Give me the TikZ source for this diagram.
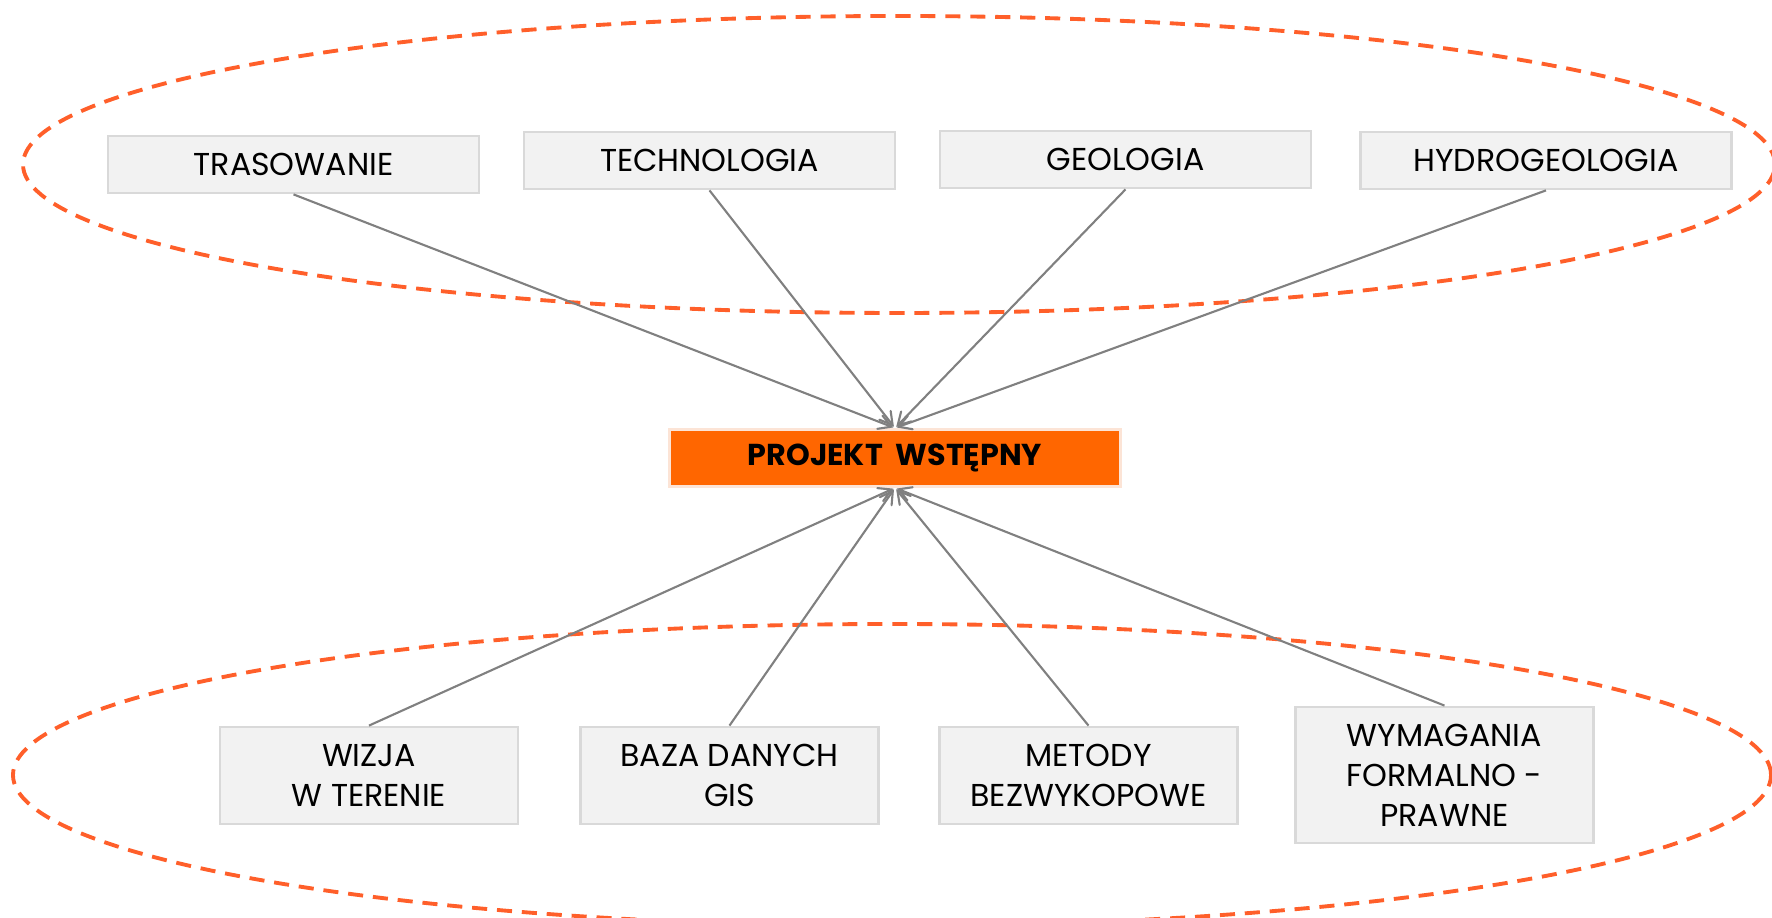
\documentclass[tikz,border=0pt]{standalone}
\usepackage{fontspec}
\setmainfont{Poppins}
\usepackage{tikz}
\usetikzlibrary{arrows}
\definecolor{projorange}{HTML}{FF6600}
\definecolor{ringorange}{HTML}{FF5F2A}
\definecolor{boxgray}{HTML}{F2F2F2}
\definecolor{boxline}{HTML}{D9D9D9}
\definecolor{peach}{HTML}{FCE4D6}

\begin{document}
\begin{tikzpicture}[
    every node/.style={font=\fontsize{9}{11.4}\selectfont, align=center, inner sep=0pt},
    topbox/.style={draw=boxline, line width=0.8pt, fill=boxgray, minimum width=3.71cm, minimum height=0.57cm},
    botbox/.style={draw=boxline, line width=0.8pt, fill=boxgray, minimum width=2.98cm, minimum height=0.97cm},
    projbox/.style={draw=peach, line width=0.8pt, fill=projorange, minimum width=4.51cm, minimum height=0.57cm, font=\fontsize{8.6}{11}\selectfont\bfseries},
    ring/.style={draw=ringorange, line width=1.1pt, dash pattern=on 4.3pt off 2.8pt},
    link/.style={->, >=angle 60, draw=gray, line width=0.6pt, shorten >=0.5pt}
  ]
  \useasboundingbox (0, 0) rectangle (17.72, 9.18);
  \draw [ring] (8.99, 7.535) ellipse [x radius=8.76, y radius=1.485];
  \draw [ring] (8.92, 1.43) ellipse [x radius=8.79, y radius=1.51];
  \node [topbox] (TRAS) at (2.935, 7.535) {TRASOWANIE};
  \node [topbox] (TECH) at (7.095, 7.575) {TECHNOLOGIA};
  \node [topbox] (GEOL) at (11.255, 7.585) {GEOLOGIA};
  \node [topbox] (HYDR) at (15.46, 7.575) {HYDROGEOLOGIA};
  \node [projbox] (PROJ) at (8.95, 4.60) {PROJEKT\ \ WSTĘPNY};
  \node [botbox] (WIZJ) at (3.69, 1.425) {WIZJA\\W TERENIE};
  \node [botbox] (BAZA) at (7.295, 1.425) {BAZA DANYCH\\GIS};
  \node [botbox] (METO) at (10.885, 1.425) {METODY\\BEZWYKOPOWE};
  \node [botbox, minimum height=1.36cm] (WYMA) at (14.445, 1.43) {WYMAGANIA\\FORMALNO -\\PRAWNE};
  \draw [link] (TRAS.south) -- (PROJ.north);
  \draw [link] (TECH.south) -- (PROJ.north);
  \draw [link] (GEOL.south) -- (PROJ.north);
  \draw [link] (HYDR.south) -- (PROJ.north);
  \draw [link] (WIZJ.north) -- (PROJ.south);
  \draw [link] (BAZA.north) -- (PROJ.south);
  \draw [link] (METO.north) -- (PROJ.south);
  \draw [link] (WYMA.north) -- (PROJ.south);
\end{tikzpicture}
\end{document}
